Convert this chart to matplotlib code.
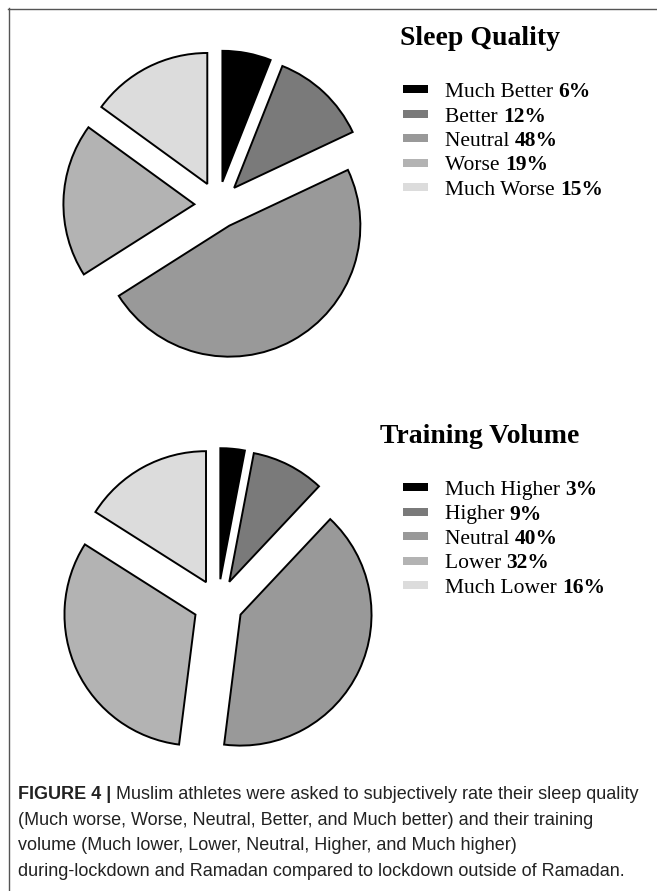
import matplotlib
matplotlib.use('Agg')
import matplotlib.pyplot as plt
from matplotlib.patches import Rectangle
from matplotlib.lines import Line2D

# data
sleep_title = 'Sleep Quality'
sleep_labels = ['Much Better', 'Better', 'Neutral', 'Worse', 'Much Worse']
sleep_values = [6, 12, 48, 19, 15]
train_title = 'Training Volume'
train_labels = ['Much Higher', 'Higher', 'Neutral', 'Lower', 'Much Lower']
train_values = [3, 9, 40, 32, 16]
grays = ['#000000', '#7a7a7a', '#999999', '#b3b3b3', '#dcdcdc']
caption = [
    ('FIGURE 4 |', ' Muslim athletes were asked to subjectively rate their sleep quality'),
    ('', '(Much worse, Worse, Neutral, Better, and Much better) and their training'),
    ('', 'volume (Much lower, Lower, Neutral, Higher, and Much higher)'),
    ('', 'during-lockdown and Ramadan compared to lockdown outside of Ramadan.'),
]

W, H = 657, 891
R = 131  # pie radius in pixels
fig = plt.figure(figsize=(W / 100, H / 100), dpi=100)
renderer = fig.canvas.get_renderer()


def fx(x):
    return x / W


def fy(y):
    return 1 - y / H


def draw_pie(cx, cy, values, explode):
    half = 200
    ax = fig.add_axes([fx(cx - half), fy(cy + half), 2 * half / W, 2 * half / H])
    ax.pie(values, colors=grays, startangle=90, counterclock=False,
           explode=[explode] * len(values), radius=1,
           wedgeprops=dict(edgecolor='black', linewidth=1.4))
    ax.set_xlim(-half / R, half / R)
    ax.set_ylim(-half / R, half / R)
    ax.axis('off')


def mixed(x, y, parts, size, family, color='black'):
    # parts: (text, weight) drawn one after another on a baseline
    for s, weight in parts:
        if not s:
            continue
        t = fig.text(fx(x), fy(y), s, fontsize=size, fontweight=weight,
                     family=family, color=color, ha='left', va='baseline')
        x += t.get_window_extent(renderer).width


def draw_legend(title, labels, values, title_base, first_base):
    fig.text(fx(480), fy(title_base), title, fontsize=20, fontweight='bold',
             family='Liberation Serif', ha='center', va='baseline')
    for i, (lab, val) in enumerate(zip(labels, values)):
        base = first_base + i * 24.5
        fig.patches.append(Rectangle((fx(403), fy(base - 4)), 25 / W, 8 / H,
                                     transform=fig.transFigure,
                                     facecolor=grays[i], edgecolor='none'))
        mixed(445, base, [(lab + ' ', 'normal'), ('%d%%' % val, 'bold')],
              15.5, 'Liberation Serif')


draw_pie(218, 205, sleep_values, 0.18)
draw_pie(218, 604, train_values, 0.19)
draw_legend(sleep_title, sleep_labels, sleep_values, 45, 97)
draw_legend(train_title, train_labels, train_values, 443, 495)

# caption
for i, (bold, rest) in enumerate(caption):
    base = 799 + i * 25.7
    mixed(18, base, [(bold, 'bold'), (rest, 'normal')], 13, 'Liberation Sans', '#222222')

# frame lines (top and left)
fig.lines.append(Line2D([fx(8), 1], [fy(8.5), fy(8.5)], transform=fig.transFigure,
                        color='#555555', lw=1.0))
fig.lines.append(Line2D([fx(8.5), fx(8.5)], [fy(8), 0], transform=fig.transFigure,
                        color='#555555', lw=1.0))

fig.savefig('out.png', dpi=100)
